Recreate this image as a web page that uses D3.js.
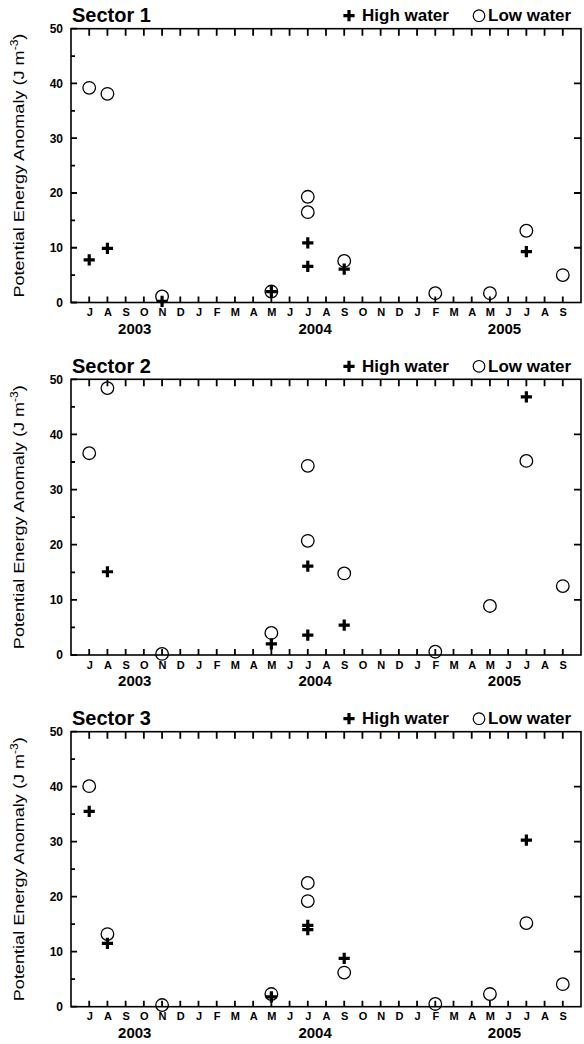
<!DOCTYPE html>
<html>
<head>
<meta charset="utf-8">
<script src="https://cdn.jsdelivr.net/npm/d3@7"></script>
<style>
  html, body { margin: 0; padding: 0; background: #fff; }
  svg { display: block; color: #000; }
  text { font-family: "Liberation Sans", Arial, sans-serif; fill: #000; }
</style>
</head>
<body>
<svg id="chart" width="584" height="1044"></svg>
<script>
// ---- data ----
const monthLabels = ["J","A","S","O","N","D","J","F","M","A","M","J","J","A","S","O","N","D","J","F","M","A","M","J","J","A","S"];
const monthKeys = ["2003-07","2003-08","2003-09","2003-10","2003-11","2003-12","2004-01","2004-02","2004-03","2004-04","2004-05","2004-06","2004-07","2004-08","2004-09","2004-10","2004-11","2004-12","2005-01","2005-02","2005-03","2005-04","2005-05","2005-06","2005-07","2005-08","2005-09"];
const yearLabels = ["2003","2004","2005"];
const yearPositions = [2.5, 12.4, 22.8];
const yTicks = [0,10,20,30,40,50];
const yMinorTicks = [5,15,25,35,45];
const yRightTicks = [10,20,30,40];
const sectorNames = ["Sector 1","Sector 2","Sector 3"];

const sector1HighDates = ["2003-07","2003-08","2003-11","2004-05","2004-07","2004-07","2004-09","2005-07"];
const sector1HighValues = [7.8, 9.9, 0.2, 2.0, 10.9, 6.6, 6.1, 9.3];
const sector1LowDates = ["2003-07","2003-08","2003-11","2004-05","2004-07","2004-07","2004-09","2005-02","2005-05","2005-07","2005-09"];
const sector1LowValues = [39.2, 38.1, 1.1, 2.0, 19.3, 16.5, 7.6, 1.7, 1.7, 13.1, 5.0];

const sector2HighDates = ["2003-08","2004-05","2004-07","2004-07","2004-09","2005-07"];
const sector2HighValues = [15.1, 2.0, 16.1, 3.6, 5.4, 46.8];
const sector2LowDates = ["2003-07","2003-08","2003-11","2004-05","2004-07","2004-07","2004-09","2005-02","2005-05","2005-07","2005-09"];
const sector2LowValues = [36.6, 48.4, 0.2, 4.0, 34.3, 20.7, 14.8, 0.6, 8.9, 35.2, 12.5];

const sector3HighDates = ["2003-07","2003-08","2004-05","2004-07","2004-07","2004-09","2005-07"];
const sector3HighValues = [35.5, 11.5, 1.8, 14.0, 14.8, 8.8, 30.3];
const sector3LowDates = ["2003-07","2003-08","2003-11","2004-05","2004-07","2004-07","2004-09","2005-02","2005-05","2005-07","2005-09"];
const sector3LowValues = [40.1, 13.2, 0.3, 2.3, 22.5, 19.2, 6.2, 0.5, 2.3, 15.2, 4.1];

const sectors = [
  {high: d3.zip(sector1HighDates, sector1HighValues), low: d3.zip(sector1LowDates, sector1LowValues)},
  {high: d3.zip(sector2HighDates, sector2HighValues), low: d3.zip(sector2LowDates, sector2LowValues)},
  {high: d3.zip(sector3HighDates, sector3HighValues), low: d3.zip(sector3LowDates, sector3LowValues)}
];

// ---- layout ----
const left = 71, right = 581;
const panelTops = [28.7, 379.3, 731.7];
const panelBottoms = [302.5, 655, 1006.7];

const svg = d3.select("#chart");
const x = d3.scaleLinear().domain([-1, 27]).range([left, right]);
const xOf = key => x(monthKeys.indexOf(key));
const monthIdx = d3.range(0, 27);

const plusPath = "M-5.6,-1.6H5.6V1.6H-5.6Z M-1.6,-5.6H1.6V5.6H-1.6Z";

sectors.forEach((s, i) => {
  const top = panelTops[i], bottom = panelBottoms[i];
  const y = d3.scaleLinear().domain([0, 50]).range([bottom, top]);
  const g = svg.append("g");

  // y tick labels via axis
  const la = g.append("g").attr("transform", `translate(${left},0)`)
    .call(d3.axisLeft(y).tickValues(yTicks).tickSize(0).tickPadding(8).tickFormat(d3.format("d")));
  la.select(".domain").remove();
  la.selectAll("text").style("font-size", "12px").style("font-weight", "bold").attr("font-family", null);

  // month labels via axis
  const ba = g.append("g").attr("transform", `translate(0,${bottom})`)
    .call(d3.axisBottom(x).tickValues(monthIdx).tickSize(0).tickPadding(6).tickFormat(d => monthLabels[d]));
  ba.select(".domain").remove();
  ba.selectAll("text").style("font-size", "11px").style("font-weight", "bold").attr("font-family", null);

  // tick marks (inward)
  const tickPath = d3.path();
  yTicks.forEach(v => { tickPath.moveTo(left, y(v)); tickPath.lineTo(left + 6, y(v)); });
  yMinorTicks.forEach(v => { tickPath.moveTo(left, y(v)); tickPath.lineTo(left + 4, y(v)); });
  yRightTicks.forEach(v => { tickPath.moveTo(right, y(v)); tickPath.lineTo(right - 7, y(v)); });
  monthIdx.forEach(m => {
    tickPath.moveTo(x(m), bottom); tickPath.lineTo(x(m), bottom - 6);
    tickPath.moveTo(x(m), top); tickPath.lineTo(x(m), top + 7);
  });
  g.append("path").attr("d", tickPath.toString()).attr("fill", "none").attr("stroke", "#000").attr("stroke-width", 1.8);

  // frame
  g.append("rect").attr("x", left).attr("y", top).attr("width", right - left).attr("height", bottom - top)
    .attr("fill", "none").attr("stroke", "#000").attr("stroke-width", 1.6);

  // year labels
  g.selectAll(".year").data(yearLabels).join("text")
    .attr("x", (d, j) => x(yearPositions[j])).attr("y", bottom + 31)
    .attr("text-anchor", "middle").style("font-size", "15px").style("font-weight", "bold")
    .text(d => d);

  // title
  g.append("text").attr("x", left + 1).attr("y", top - 6.5)
    .style("font-size", "20px").style("font-weight", "bold").text(sectorNames[i]);

  // legend
  g.append("path").attr("d", plusPath).attr("transform", `translate(349,${top - 13})`).attr("fill", "#000");
  g.append("text").attr("x", 362).attr("y", top - 7.5).style("font-size", "17px").style("font-weight", "bold").text("High water");
  g.append("circle").attr("cx", 479).attr("cy", top - 13).attr("r", 5.8).attr("fill", "none").attr("stroke", "#000").attr("stroke-width", 1.2);
  g.append("text").attr("x", 488).attr("y", top - 7.5).style("font-size", "17px").style("font-weight", "bold").text("Low water");

  // y-axis label
  const cy = (top + bottom) / 2;
  const yl = g.append("text").attr("transform", `translate(24,${cy}) rotate(-90)`)
    .attr("text-anchor", "middle").style("font-size", "15px")
    .attr("textLength", 264).attr("lengthAdjust", "spacingAndGlyphs");
  yl.append("tspan").text("Potential Energy Anomaly (J m");
  yl.append("tspan").attr("dy", -6).style("font-size", "10px").text("-3");
  yl.append("tspan").attr("dy", 6).text(")");

  // data: low water circles
  g.append("g").selectAll("circle").data(s.low).join("circle")
    .attr("cx", d => xOf(d[0])).attr("cy", d => y(d[1])).attr("r", 6.3)
    .attr("fill", "none").attr("stroke", "#000").attr("stroke-width", 1.3);
  // high water plus
  g.append("g").selectAll("path").data(s.high).join("path")
    .attr("d", plusPath).attr("transform", d => `translate(${xOf(d[0])},${y(d[1])})`).attr("fill", "#000");
});
</script>
</body>
</html>
